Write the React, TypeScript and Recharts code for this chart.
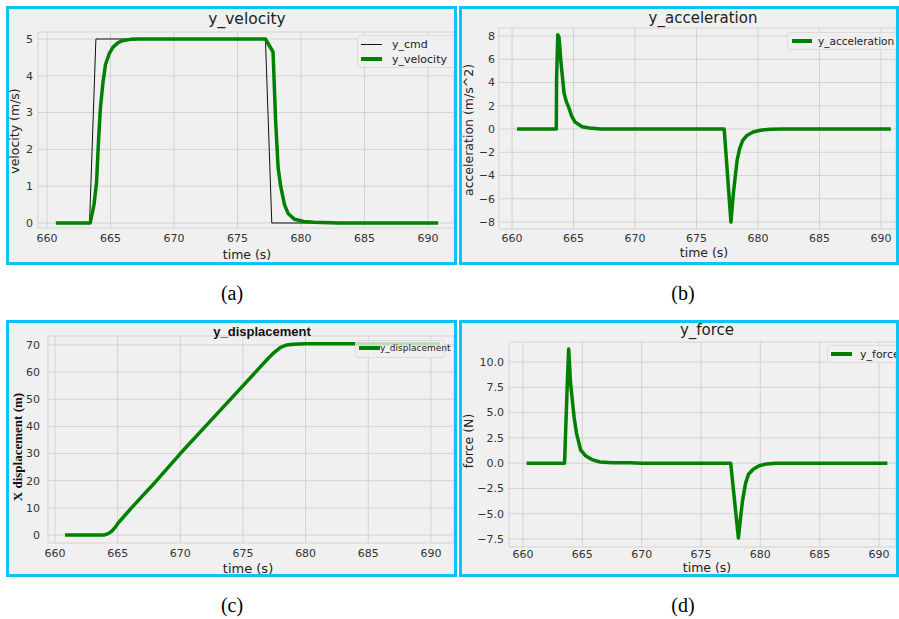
import React from 'react';
import { LineChart, Line, XAxis, YAxis, CartesianGrid } from 'recharts';

// ---------- data ----------
const timeTicks = [660, 665, 670, 675, 680, 685, 690];

const cmdTime = [660.7, 663.35, 663.85, 677.2, 677.7, 690.8];
const cmdValue = [0, 0, 5, 5, 0, 0];

const velTime = [660.7, 663.4, 663.7, 663.9, 664.05, 664.2, 664.4, 664.6, 664.9, 665.2, 665.6, 666.0, 666.6, 667.2, 677.2, 677.8, 678.0, 678.2, 678.4, 678.7, 679.0, 679.5, 680.2, 681.0, 683.0, 690.8];
const velValue = [0, 0, 0.5, 1.1, 2.2, 3.1, 3.8, 4.3, 4.6, 4.78, 4.9, 4.96, 4.99, 5.0, 5.0, 4.65, 2.8, 1.5, 1.0, 0.5, 0.25, 0.1, 0.04, 0.02, 0, 0];

const accTime = [660.4, 663.6, 663.62, 663.72, 663.82, 664.0, 664.23, 664.4, 664.63, 664.85, 665.12, 665.7, 666.3, 667.2, 677.25, 677.8, 678.0, 678.3, 678.5, 678.75, 679.1, 679.6, 680.2, 681.0, 682.0, 690.8];
const accValue = [0, 0, 4.2, 8.1, 7.9, 5.5, 3.1, 2.4, 1.8, 1.1, 0.6, 0.2, 0.08, 0, 0, -8.0, -5.5, -2.7, -1.7, -1.0, -0.55, -0.25, -0.1, -0.02, 0, 0];

const dispTime = [660.8, 663.9, 664.2, 664.5, 664.8, 665.0, 665.5, 666.1, 668.1, 670.0, 672.0, 676.0, 677.0, 677.5, 678.0, 678.5, 679.0, 680.0, 690.7];
const dispValue = [0, 0, 0.4, 1.3, 2.8, 4.2, 6.8, 10, 20, 30, 40, 60, 65, 67.3, 69.1, 70.0, 70.3, 70.4, 70.4];

const forceTime = [660.3, 663.5, 663.75, 663.85, 664.0, 664.3, 664.5, 664.86, 665.3, 665.8, 666.5, 667.5, 669.0, 670.0, 677.5, 678.15, 678.35, 678.5, 678.75, 679.0, 679.4, 679.9, 680.5, 681.3, 690.7];
const forceValue = [0, 0, 8.5, 11.3, 8.0, 4.6, 3.0, 1.3, 0.7, 0.35, 0.12, 0.05, 0.03, 0, 0, -7.4, -5.2, -3.7, -2.0, -1.1, -0.6, -0.25, -0.08, 0, 0];

const velTicks = [0, 1, 2, 3, 4, 5];
const accTicks = [-8, -6, -4, -2, 0, 2, 4, 6, 8];
const dispTicks = [0, 10, 20, 30, 40, 50, 60, 70];
const forceTicks = [-7.5, -5.0, -2.5, 0.0, 2.5, 5.0, 7.5, 10.0];

// ---------- helpers ----------
const zip = (t: number[], v: number[]) => t.map((x, i) => ({ t: x, v: v[i] }));
const minus = (s: string) => s.replace('-', '\u2212');
const intFmt = (d: number) => minus(String(d));
const oneFmt = (d: number) => minus(d.toFixed(1));

const GREEN = '#008000';
const CYAN = '#0cc4f2';
const BG = '#f0f0f0';
const GRID = '#d3d3d3';
const SANS = '"DejaVu Sans", sans-serif';

type Rect = { x: number; y: number; w: number; h: number };
type Plot = { l: number; t: number; r: number; b: number };
type Series = { name: string; data: { t: number; v: number }[]; color: string; width: number };
type LegendSpec = { box: Rect; rows: { y: number; name: string; color: string; width: number }[]; lineX: [number, number]; textX: number; fontSize: number };
type TextSpec = { text: string; cx: number; cy: number; size: number; family?: string; weight?: number | string; rotate?: boolean; color?: string };

type PanelProps = {
  outer: Rect;
  plot: Plot;
  xDomain: [number, number];
  yDomain: [number, number];
  yTicks: number[];
  yFmt: (d: number) => string;
  yTickMargin: number;
  xTickMargin: number;
  series: Series[];
  legend: LegendSpec;
};

const B = 3;

const Panel = ({ outer, plot, xDomain, yDomain, yTicks, yFmt, yTickMargin, xTickMargin, series, legend }: PanelProps) => {
  const ix = outer.x + B;
  const iy = outer.y + B;
  const iw = outer.w - 2 * B;
  const ih = outer.h - 2 * B;
  const leftSpace = plot.l - ix;
  const bottomSpace = iy + ih - plot.b;
  const margin = { left: 0, top: plot.t - iy, right: ix + iw - plot.r, bottom: 0 };
  const tickStyle = { fontSize: 11, fill: '#333', fontFamily: SANS };
  return (
    <div
      style={{
        position: 'absolute',
        left: outer.x,
        top: outer.y,
        width: outer.w,
        height: outer.h,
        boxSizing: 'border-box',
        border: `${B}px solid ${CYAN}`,
        background: BG,
        overflow: 'hidden',
      }}
    >
      <LineChart width={iw} height={ih} margin={margin}>
        <CartesianGrid stroke={GRID} strokeWidth={1} />
        <XAxis
          type="number"
          dataKey="t"
          domain={xDomain}
          allowDataOverflow
          ticks={timeTicks}
          interval={0}
          axisLine={false}
          tickLine={false}
          tickSize={0}
          tickMargin={xTickMargin}
          height={bottomSpace}
          tick={tickStyle}
        />
        <YAxis
          type="number"
          dataKey="v"
          domain={yDomain}
          allowDataOverflow
          ticks={yTicks}
          interval={0}
          axisLine={false}
          tickLine={false}
          tickSize={0}
          tickMargin={yTickMargin}
          width={leftSpace}
          tick={tickStyle}
          tickFormatter={yFmt}
        />
        {series.map((s) => (
          <Line
            key={s.name}
            data={s.data}
            dataKey="v"
            name={s.name}
            type="linear"
            stroke={s.color}
            strokeWidth={s.width}
            dot={false}
            activeDot={false}
            isAnimationActive={false}
            strokeLinejoin="round"
          />
        ))}
      </LineChart>
      <div
        style={{
          position: 'absolute',
          left: legend.box.x - ix,
          top: legend.box.y - iy,
          width: legend.box.w,
          height: legend.box.h,
          boxSizing: 'border-box',
          background: 'rgba(240,240,240,0.8)',
          border: '1px solid #dcdcdc',
          borderRadius: 3,
        }}
      />
      {legend.rows.map((r) => (
        <React.Fragment key={r.name}>
          <div
            style={{
              position: 'absolute',
              left: legend.lineX[0] - ix,
              top: r.y - iy - r.width / 2,
              width: legend.lineX[1] - legend.lineX[0],
              height: r.width,
              background: r.color,
            }}
          />
          <div
            style={{
              position: 'absolute',
              left: legend.textX - ix,
              top: r.y - iy,
              transform: 'translateY(-50%)',
              fontFamily: SANS,
              fontSize: legend.fontSize,
              lineHeight: 1,
              color: '#222',
              whiteSpace: 'nowrap',
            }}
          >
            {r.name}
          </div>
        </React.Fragment>
      ))}
    </div>
  );
};

const Txt = ({ text, cx, cy, size, family, weight, rotate, color }: TextSpec) => (
  <div
    style={{
      position: 'absolute',
      left: cx,
      top: cy,
      transform: `translate(-50%, -50%)${rotate ? ' rotate(-90deg)' : ''}`,
      fontFamily: family || SANS,
      fontWeight: weight || 'normal',
      fontSize: size,
      lineHeight: 1,
      color: color || '#222',
      whiteSpace: 'nowrap',
    }}
  >
    {text}
  </div>
);

const texts: TextSpec[] = [
  { text: 'y_velocity', cx: 247, cy: 20, size: 15.5 },
  { text: 'time (s)', cx: 247, cy: 255, size: 12.5 },
  { text: 'velocity (m/s)', cx: 15, cy: 131, size: 12.5, rotate: true },
  { text: 'y_acceleration', cx: 703, cy: 18, size: 15 },
  { text: 'time (s)', cx: 704, cy: 253, size: 12.5 },
  { text: 'acceleration (m/s^2)', cx: 469, cy: 130, size: 12.5, rotate: true },
  { text: 'y_displacement', cx: 262, cy: 331, size: 13, family: '"Liberation Sans", Arial, sans-serif', weight: 'bold', color: '#111' },
  { text: 'time (s)', cx: 248, cy: 568, size: 13 },
  { text: 'X displacement (m)', cx: 17, cy: 447, size: 13, family: '"Liberation Serif", "Times New Roman", serif', weight: 'bold', rotate: true, color: '#111' },
  { text: 'y_force', cx: 707, cy: 330, size: 15 },
  { text: 'time (s)', cx: 707, cy: 568, size: 12.5 },
  { text: 'force (N)', cx: 469, cy: 441, size: 12.5, rotate: true },
];

const captions = [
  { text: '(a)', cx: 232, cy: 293 },
  { text: '(b)', cx: 683, cy: 293 },
  { text: '(c)', cx: 232, cy: 605 },
  { text: '(d)', cx: 683, cy: 605 },
];

export default function App() {
  return (
    <div style={{ position: 'absolute', left: 0, top: 0, width: 899, height: 619, background: '#fff', overflow: 'hidden' }}>
      <Panel
        outer={{ x: 6, y: 6, w: 451, h: 259 }}
        plot={{ l: 38, t: 32, r: 454, b: 228 }}
        xDomain={[659.29, 692.05]}
        yDomain={[-0.136, 5.19]}
        yTicks={velTicks}
        yFmt={intFmt}
        yTickMargin={5}
        xTickMargin={6}
        series={[
          { name: 'y_cmd', data: zip(cmdTime, cmdValue), color: '#111', width: 1 },
          { name: 'y_velocity', data: zip(velTime, velValue), color: GREEN, width: 3.5 },
        ]}
        legend={{
          box: { x: 357, y: 35, w: 110, h: 33 },
          rows: [
            { y: 44, name: 'y_cmd', color: '#111', width: 1 },
            { y: 59, name: 'y_velocity', color: GREEN, width: 4 },
          ],
          lineX: [361, 382],
          textX: 392,
          fontSize: 11,
        }}
      />
      <Panel
        outer={{ x: 459, y: 6, w: 440, h: 259 }}
        plot={{ l: 499, t: 28, r: 896, b: 229 }}
        xDomain={[658.94, 691.22]}
        yDomain={[-8.6, 8.69]}
        yTicks={accTicks}
        yFmt={intFmt}
        yTickMargin={4}
        xTickMargin={5}
        series={[{ name: 'y_acceleration', data: zip(accTime, accValue), color: GREEN, width: 3.5 }]}
        legend={{
          box: { x: 787, y: 32, w: 130, h: 18 },
          rows: [{ y: 41, name: 'y_acceleration', color: GREEN, width: 4 }],
          lineX: [792, 812],
          textX: 818,
          fontSize: 10.5,
        }}
      />
      <Panel
        outer={{ x: 6, y: 320, w: 451, h: 257 }}
        plot={{ l: 48, t: 336, r: 454, b: 543 }}
        xDomain={[659.44, 691.84]}
        yDomain={[-2.95, 73.3]}
        yTicks={dispTicks}
        yFmt={intFmt}
        yTickMargin={8}
        xTickMargin={6}
        series={[{ name: 'y_displacement', data: zip(dispTime, dispValue), color: GREEN, width: 3.5 }]}
        legend={{
          box: { x: 355, y: 340, w: 90, h: 18 },
          rows: [{ y: 348, name: 'y_displacement', color: GREEN, width: 4 }],
          lineX: [359, 380],
          textX: 380,
          fontSize: 9,
        }}
      />
      <Panel
        outer={{ x: 459, y: 320, w: 440, h: 257 }}
        plot={{ l: 509, t: 342, r: 896, b: 547 }}
        xDomain={[658.82, 691.43]}
        yDomain={[-8.29, 11.98]}
        yTicks={forceTicks}
        yFmt={oneFmt}
        yTickMargin={5}
        xTickMargin={3}
        series={[{ name: 'y_force', data: zip(forceTime, forceValue), color: GREEN, width: 3.5 }]}
        legend={{
          box: { x: 827, y: 345, w: 90, h: 18 },
          rows: [{ y: 354, name: 'y_force', color: GREEN, width: 4 }],
          lineX: [831, 852],
          textX: 860,
          fontSize: 11,
        }}
      />
      {texts.map((t, i) => (
        <Txt key={i} {...t} />
      ))}
      {captions.map((c) => (
        <Txt key={c.text} text={c.text} cx={c.cx} cy={c.cy} size={20} family='"Liberation Serif", "Times New Roman", serif' color="#000" />
      ))}
    </div>
  );
}
